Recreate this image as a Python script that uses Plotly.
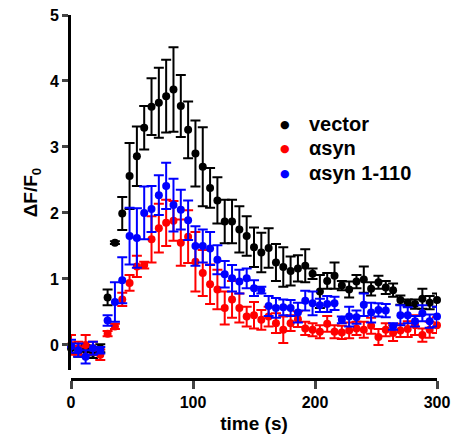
import plotly.graph_objects as go

time_s = [0, 6, 12, 18, 24, 30, 36, 42, 48, 54, 60, 66, 72, 78, 84, 90, 96, 102, 108, 114,
          120, 126, 132, 138, 144, 150, 156, 162, 168, 174, 180, 186, 192, 198, 204, 210,
          216, 222, 228, 234, 240, 246, 252, 258, 264, 270, 276, 282, 288, 294, 300]

vector_mean = [-0.05, -0.10, -0.08, -0.12, -0.05, 0.72, 1.55, 1.99, 2.56, 2.86, 3.29, 3.61, 3.67,
               3.77, 3.87, 3.62, 3.26, 2.90, 2.70, 2.38, 2.19, 1.87, 1.87, 1.75, 1.65, 1.48,
               1.40, 1.47, 1.25, 1.18, 1.12, 1.16, 1.20, 1.08, 0.81, 0.97, 1.05, 0.90, 0.84,
               0.96, 0.99, 0.85, 0.95, 0.87, 0.83, 0.68, 0.64, 0.62, 0.70, 0.64, 0.68]
vector_sem = [0.08, 0.08, 0.08, 0.08, 0.06, 0.12, 0.02, 0.25, 0.50, 0.45, 0.33, 0.43, 0.53,
              0.55, 0.64, 0.47, 0.43, 0.50, 0.60, 0.30, 0.35, 0.33, 0.33, 0.35, 0.30, 0.30,
              0.30, 0.30, 0.28, 0.30, 0.22, 0.20, 0.25, 0.08, 0.25, 0.12, 0.20, 0.07, 0.12,
              0.10, 0.20, 0.10, 0.10, 0.10, 0.10, 0.07, 0.05, 0.07, 0.15, 0.10, 0.10]

asyn_mean = [0.00, -0.05, 0.00, -0.05, -0.15, 0.17, 0.28, 0.69, 0.94, 1.19, 1.21, 1.60, 1.77,
             1.85, 1.88, 1.55, 1.64, 1.26, 1.09, 0.92, 0.84, 0.56, 0.69, 0.56, 0.43, 0.45,
             0.38, 0.43, 0.33, 0.23, 0.33, 0.39, 0.25, 0.23, 0.20, 0.32, 0.20, 0.19, 0.22,
             0.25, 0.23, 0.29, 0.12, 0.23, 0.18, 0.22, 0.24, 0.30, 0.15, 0.23, 0.30]
asyn_sem = [0.15, 0.10, 0.15, 0.10, 0.08, 0.04, 0.04, 0.10, 0.12, 0.16, 0.05, 0.35, 0.37,
            0.35, 0.30, 0.35, 0.40, 0.45, 0.35, 0.30, 0.30, 0.25, 0.28, 0.22, 0.15, 0.20,
            0.15, 0.15, 0.15, 0.20, 0.12, 0.12, 0.10, 0.10, 0.10, 0.12, 0.10, 0.10, 0.12,
            0.10, 0.12, 0.12, 0.12, 0.10, 0.12, 0.10, 0.12, 0.15, 0.10, 0.12, 0.12]

asyn110_mean = [-0.02, -0.08, -0.18, -0.05, -0.08, 0.37, 0.65, 0.98, 1.65, 1.62, 2.00, 2.06,
                2.27, 2.41, 2.12, 2.05, 1.89, 1.50, 1.50, 1.46, 1.29, 1.07, 1.01, 0.96, 1.01,
                0.86, 0.83, 0.59, 0.56, 0.57, 0.56, 0.49, 0.67, 0.63, 0.60, 0.62, 0.63, 0.38,
                0.43, 0.42, 0.61, 0.49, 0.53, 0.52, 0.28, 0.45, 0.45, 0.36, 0.48, 0.36, 0.43]
asyn110_sem = [0.10, 0.10, 0.10, 0.10, 0.05, 0.08, 0.30, 0.35, 0.43, 0.45, 0.40, 0.35, 0.30,
               0.35, 0.40, 0.30, 0.30, 0.30, 0.25, 0.25, 0.22, 0.20, 0.20, 0.18, 0.15, 0.12,
               0.05, 0.15, 0.15, 0.12, 0.12, 0.15, 0.15, 0.18, 0.10, 0.12, 0.10, 0.05, 0.15,
               0.10, 0.17, 0.15, 0.10, 0.10, 0.05, 0.15, 0.12, 0.08, 0.12, 0.10, 0.15]

series_names = ["vector", "αsyn", "αsyn 1-110"]
series_colors = ["#000000", "#ff0000", "#0000ff"]
means = [vector_mean, asyn_mean, asyn110_mean]
sems = [vector_sem, asyn_sem, asyn110_sem]

x_ticks = [0, 100, 200, 300]
y_ticks = [0, 1, 2, 3, 4, 5]

FONT = "Liberation Sans, Arial, sans-serif"

fig = go.Figure()
for name, color, m, e in zip(series_names, series_colors, means, sems):
    fig.add_trace(go.Scatter(
        x=time_s, y=m, mode="markers", name=name, showlegend=False,
        marker=dict(color=color, size=8),
        error_y=dict(type="data", array=e, visible=True, color=color, thickness=2, width=5),
        cliponaxis=False,
    ))

# legend built as text annotations (paper coordinates)
legend_rows_y = [0.7005, 0.6346, 0.5659]
annotations = []
for name, color, yy in zip(series_names, series_colors, legend_rows_y):
    annotations.append(dict(xref="paper", yref="paper", x=0.5847, y=yy, xanchor="center",
                            yanchor="middle", showarrow=False, text="●",
                            font=dict(family="DejaVu Sans", size=11, color=color)))
    annotations.append(dict(xref="paper", yref="paper", x=0.6448, y=yy, xanchor="left",
                            yanchor="middle", showarrow=False, text=name,
                            font=dict(family=FONT, size=20, color="black", weight="bold")))

fig.update_layout(
    width=452, height=445,
    margin=dict(l=71, r=15, t=15, b=66, autoexpand=False),
    paper_bgcolor="white", plot_bgcolor="white",
    font=dict(family=FONT, color="black", size=16, weight="bold"),
    showlegend=False,
    annotations=annotations,
    xaxis=dict(range=[0, 300], tickvals=x_ticks, ticks="outside", ticklen=8, tickwidth=3,
               showline=True, linewidth=3, linecolor="black", showgrid=False, zeroline=False,
               anchor="free", position=0, automargin=False,
               tickfont=dict(family=FONT, size=16, weight="bold"),
               title=dict(text="time (s)", standoff=6,
                          font=dict(family=FONT, size=19, weight="bold"))),
    yaxis=dict(range=[-0.38, 5], tickvals=y_ticks, ticks="outside", ticklen=6, tickwidth=3,
               domain=[9 / 364, 1], automargin=False,
               showline=True, linewidth=3, linecolor="black", showgrid=False, zeroline=False,
               tickfont=dict(family=FONT, size=16, weight="bold"),
               title=dict(text="ΔF/F<sub>0</sub>", standoff=8,
                          font=dict(family=FONT, size=19, weight="bold"))),
)

fig.write_html("out.html")
